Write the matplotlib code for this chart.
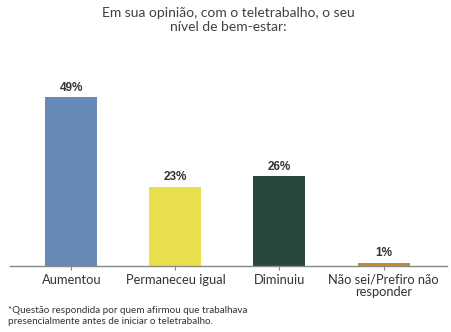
import matplotlib.pyplot as plt

categories = ["Aumentou", "Permaneceu igual", "Diminuiu", "Não sei/Prefiro não\nresponder"]
values = [49, 23, 26, 1]
value_labels = ["49%", "23%", "26%", "1%"]
colors = ["#6689b5", "#e8e04e", "#2a473b", "#c98838"]

W, H = 451, 332
fig = plt.figure(figsize=(W / 100, H / 100), dpi=100)
ax = fig.add_axes([10 / W, 1 - 266 / H, 437 / W, 189.7 / H])

x = list(range(len(categories)))
ax.bar(x, values, width=0.5, color=colors)
ax.set_xlim(-0.59, 3.61)
ax.set_ylim(0, 55)

for xi, v, lab in zip(x, values, value_labels):
    ax.text(xi, v + 1.0, lab, ha="center", va="bottom", fontsize=8.5,
            fontweight="bold", family="Liberation Sans", color="#333333")

for s in ["top", "right", "left"]:
    ax.spines[s].set_visible(False)
ax.spines["bottom"].set_color("#888888")
ax.spines["bottom"].set_linewidth(1.0)
ax.set_yticks([])
ax.set_xticks(x)
ax.set_xticklabels(categories, fontsize=9.3, family="Lato", color="#333333",
                   linespacing=1.0)
ax.tick_params(axis="x", length=3, color="#888888", pad=2.5)

fig.text(228 / W, 1 - 20 / H, "Em sua opinião, com o teletrabalho, o seu\nnível de bem-estar:",
         ha="center", va="center", fontsize=10, family="Lato", color="#404040",
         linespacing=1.15)

fig.text(8 / W, 1 - 316 / H,
         "*Questão respondida por quem afirmou que trabalhava\npresencialmente antes de iniciar o teletrabalho.",
         ha="left", va="center", fontsize=7.1, family="Lato", color="#333333",
         linespacing=1.2)

fig.savefig("out.png", dpi=100)
